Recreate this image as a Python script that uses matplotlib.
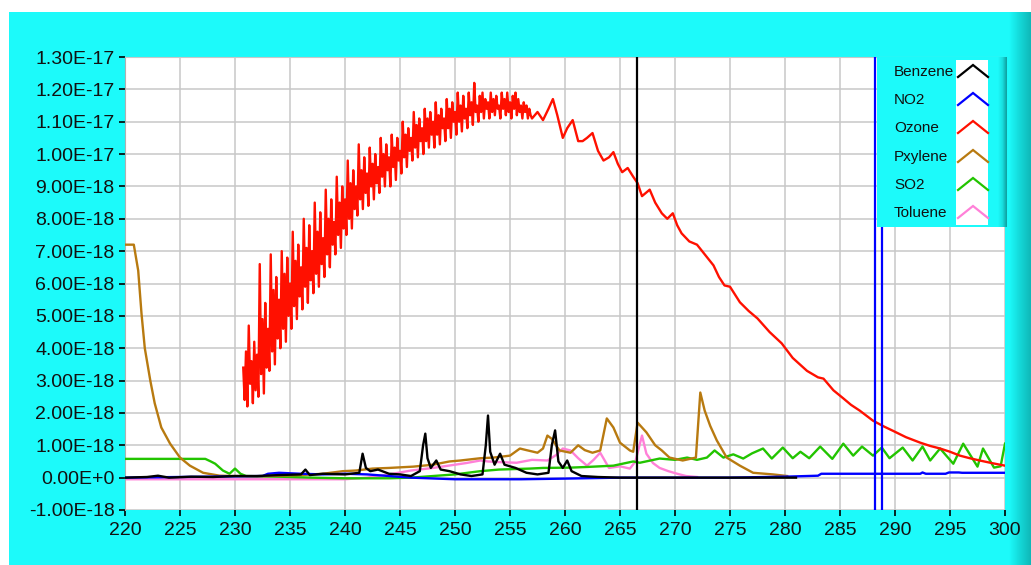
import matplotlib
matplotlib.use('Agg')
import matplotlib.pyplot as plt
import numpy as np
from matplotlib.patches import Rectangle
from matplotlib.colors import LinearSegmentedColormap

plt.rcParams['font.family'] = ['Liberation Sans', 'DejaVu Sans']

W, H, DPI = 1031, 565, 100
SCALE = 1e-18  # values below are in units of 1e-18

# ---------------- data ----------------
series_names = ['Benzene', 'NO2', 'Ozone', 'Pxylene', 'SO2', 'Toluene']
series_colors = ['#000000', '#0000FF', '#FF1000', '#B87A10', '#22C400', '#FF80D8']

x_ticks = [220, 225, 230, 235, 240, 245, 250, 255, 260, 265, 270, 275, 280, 285, 290, 295, 300]
y_tick_vals = [-1, 0, 1, 2, 3, 4, 5, 6, 7, 8, 9, 10, 11, 12, 13]
y_tick_labels = ['-1.00E-18', '0.00E+0', '1.00E-18', '2.00E-18', '3.00E-18', '4.00E-18',
                 '5.00E-18', '6.00E-18', '7.00E-18', '8.00E-18', '9.00E-18', '1.00E-17',
                 '1.10E-17', '1.20E-17', '1.30E-17']

# noisy part of the ozone trace, sampled every 0.125 nm starting at 230.75
ozone_noisy_x0 = 230.75
ozone_noisy_step = 0.125
ozone_noisy_y = [
    3.4, 2.4, 3.9,
    2.2, 4.7, 2.9, 3.6, 2.3, 4.2, 2.7, 3.8,
    2.5, 6.6, 3.2, 4.9, 2.6, 5.4, 3.4, 4.6,
    3.3, 6.9, 3.9, 5.8, 3.5, 6.2, 4.3, 5.5,
    4.0, 7.0, 4.6, 6.3, 4.2, 6.8, 5.0, 6.0,
    4.6, 7.6, 5.3, 6.7, 4.9, 7.2, 5.6, 6.5,
    5.2, 8.0, 5.9, 7.1, 5.4, 7.8, 6.1, 7.0,
    5.7, 8.5, 6.3, 7.6, 5.9, 8.2, 6.6, 7.4,
    6.2, 8.9, 6.9, 8.0, 6.5, 8.6, 7.2, 7.9,
    6.9, 9.3, 7.5, 8.5, 7.1, 9.0, 7.7, 8.6,
    7.5, 9.8, 8.0, 9.1, 7.7, 9.5, 8.3, 9.0,
    8.1, 10.3, 8.6, 9.5, 8.3, 9.9, 8.8, 9.4,
    8.4, 10.2, 9.0, 9.7, 8.6, 10.0, 9.1, 9.6,
    8.8, 10.5, 9.3, 10.0, 9.0, 10.3, 9.5, 9.9,
    9.0, 10.6, 9.6, 10.2, 9.2, 10.5, 9.8, 10.1,
    9.4, 11.0, 9.9, 10.6, 9.6, 10.8, 10.1, 10.5,
    9.8, 11.3, 10.2, 10.9, 9.9, 11.1, 10.4, 10.8,
    10.0, 11.4, 10.4, 11.1, 10.2, 11.3, 10.6, 11.0,
    10.2, 11.6, 10.6, 11.2, 10.3, 11.4, 10.8, 11.1,
    10.4, 11.7, 10.8, 11.4, 10.5, 11.6, 11.0, 11.3,
    10.6, 11.9, 11.0, 11.5, 10.7, 11.8, 11.1, 11.4,
    10.8, 11.9, 11.2, 11.6, 10.9, 12.2, 11.3, 11.5,
    11.0, 11.8, 11.3, 11.9, 11.1, 11.7, 11.4, 11.6,
    11.1, 11.9, 11.3, 11.7, 11.2, 11.8, 11.4, 11.5,
    11.1, 11.9, 11.4, 11.7, 11.2, 11.9, 11.3, 11.6,
    11.1, 11.8, 11.4, 11.9, 11.2, 11.7, 11.3, 11.5,
    11.1, 11.6, 11.3, 11.5, 11.1, 11.4, 11.2, 11.1,
]
ozone_smooth_x = [257.5, 258.0, 258.5, 258.9, 259.3, 259.8, 260.2, 260.7, 261.2, 261.6, 262.0, 262.5,
                  263.0, 263.5, 264.0, 264.4, 264.8, 265.2, 265.7, 266.2, 266.6, 267.0, 267.7, 268.2,
                  268.8, 269.3, 269.8, 270.2, 270.6, 271.3, 272.0, 272.7, 273.5, 274.0, 274.5, 275.0,
                  275.9, 276.7, 277.5, 278.6, 279.7, 280.7, 282.0, 283.0, 283.5, 284.4, 285.3, 286.0,
                  286.8, 288.0, 289.0, 289.8, 291.0, 292.3, 293.2, 294.1, 295.0, 295.9, 296.8, 297.7,
                  298.8, 300.0]
ozone_smooth_y = [11.3, 11.05, 11.4, 11.7, 11.2, 10.5, 10.8, 11.05, 10.4, 10.4, 10.5, 10.65,
                  10.1, 9.8, 9.9, 10.06, 9.7, 9.44, 9.57, 9.3, 9.1, 8.7, 8.9, 8.5,
                  8.17, 8.0, 8.17, 7.8, 7.55, 7.3, 7.2, 6.9, 6.56, 6.2, 5.94, 5.9,
                  5.42, 5.15, 4.92, 4.5, 4.15, 3.7, 3.3, 3.1, 3.06, 2.7, 2.45, 2.25,
                  2.07, 1.76, 1.58, 1.45, 1.25, 1.08, 0.98, 0.9, 0.8, 0.68, 0.6, 0.53,
                  0.45, 0.37]

pxylene_x = [220.0, 220.8, 221.2, 221.5, 221.8, 222.3, 222.7, 223.3, 224.1, 225.0, 225.9, 227.1,
             228.6, 230.0, 232.0, 234.0, 236.0, 238.0, 239.8, 241.0, 242.5, 244.0, 246.2, 248.0,
             249.5, 250.5, 252.3, 253.5, 255.0, 255.9, 256.5, 257.5, 258.0, 258.4, 258.8, 259.5,
             260.5, 261.2, 261.8, 262.5, 263.2, 263.8, 264.4, 265.0, 265.9, 266.2, 266.6, 267.4,
             268.2, 268.8, 269.5, 270.7, 271.9, 272.3, 272.7, 273.2, 273.8, 274.7, 275.9, 277.1,
             278.9, 280.2]
pxylene_y = [7.2, 7.2, 6.4, 5.07, 4.0, 3.0, 2.3, 1.55, 1.05, 0.62, 0.37, 0.15,
             0.06, 0.05, 0.04, 0.06, 0.08, 0.12, 0.2, 0.22, 0.28, 0.3, 0.34, 0.4,
             0.5, 0.53, 0.6, 0.62, 0.68, 0.9, 0.85, 0.77, 0.9, 1.3, 1.2, 0.84,
             0.77, 1.0, 0.85, 0.77, 0.84, 1.83, 1.55, 1.08, 0.84, 0.8, 1.7, 1.4,
             1.0, 0.84, 0.62, 0.53, 0.62, 2.63, 2.07, 1.6, 1.15, 0.62, 0.37, 0.15,
             0.1, 0.05]

so2_x = [220.0, 227.3, 227.8, 228.2, 228.9, 229.5, 230.0, 230.5, 231.0, 234.0, 237.0, 240.0,
         244.0, 246.0, 248.0, 250.0, 252.3, 254.0, 256.8, 258.0, 260.5, 262.0, 264.4, 266.2,
         266.8, 268.6, 270.0, 271.1, 272.0, 272.9, 273.6, 274.4, 275.3, 276.2, 277.0, 278.0,
         278.8, 279.8, 280.7, 281.4, 282.2, 283.2, 284.3, 285.3, 286.2, 287.0, 288.0, 288.8,
         289.5, 290.7, 291.6, 292.5, 293.2, 294.1, 295.3, 296.2, 297.5, 298.0, 299.0, 299.6,
         300.0]
so2_y = [0.58, 0.58, 0.5, 0.43, 0.22, 0.12, 0.28, 0.12, 0.05, 0.03, 0.0, -0.02,
         -0.02, 0.0, 0.05, 0.1, 0.2, 0.25, 0.28, 0.3, 0.31, 0.33, 0.37, 0.5,
         0.46, 0.59, 0.55, 0.62, 0.55, 0.62, 0.84, 0.62, 0.72, 0.59, 0.75, 0.9,
         0.59, 0.93, 0.6, 0.8, 0.6, 0.96, 0.58, 1.05, 0.68, 0.96, 0.68, 0.93,
         0.6, 0.93, 0.53, 0.96, 0.53, 0.9, 0.43, 1.05, 0.34, 0.9, 0.31, 0.35,
         1.05]

no2_x = [220.0, 232.5, 233.0, 234.0, 236.0, 238.0, 240.0, 242.0, 244.0, 246.0, 250.0, 256.0,
         260.0, 265.0, 270.0, 275.0, 280.0, 283.0, 283.3, 292.3, 292.5, 292.8, 294.6, 294.9,
         295.8, 296.1, 300.0]
no2_y = [0.0, 0.05, 0.12, 0.15, 0.12, 0.1, 0.12, 0.1, 0.05, 0.0, -0.05, -0.05,
         -0.03, 0.0, 0.0, 0.0, 0.03, 0.06, 0.12, 0.12, 0.16, 0.12, 0.12, 0.16,
         0.16, 0.15, 0.15]

benzene_x = [220.0, 222.0, 223.0, 224.0, 226.0, 228.0, 230.0, 232.0, 234.0, 236.0, 236.4, 236.8,
             238.0, 240.0, 241.3, 241.6, 241.9, 242.3, 243.0, 244.0, 245.0, 246.0, 246.8, 247.1,
             247.3, 247.5, 247.8, 248.3, 248.7, 249.5, 250.5, 251.5, 252.5, 252.8, 253.0, 253.2,
             253.6, 254.1, 254.5, 255.5, 256.5, 257.5, 258.5, 258.8, 259.1, 259.4, 259.8, 260.2,
             260.6, 261.5, 263.0, 265.0, 270.0, 275.0, 281.0]
benzene_y = [0.0, 0.02, 0.06, 0.0, 0.03, 0.02, 0.05, 0.05, 0.08, 0.1, 0.25, 0.08,
             0.12, 0.1, 0.15, 0.74, 0.3, 0.2, 0.25, 0.12, 0.1, 0.05, 0.2, 1.0,
             1.36, 0.6, 0.3, 0.53, 0.25, 0.2, 0.1, 0.05, 0.1, 1.0, 1.92, 0.8,
             0.4, 0.74, 0.4, 0.3, 0.15, 0.1, 0.15, 1.0, 1.46, 0.5, 0.3, 0.53,
             0.2, 0.05, 0.02, 0.0, 0.0, 0.0, 0.0]

toluene_x = [220.0, 240.0, 242.0, 244.0, 246.0, 248.0, 249.0, 250.0, 251.0, 252.3, 253.0, 254.0,
             255.6, 257.0, 258.4, 259.2, 259.8, 260.5, 261.2, 262.0, 262.6, 263.2, 264.0, 265.0,
             265.9, 266.4, 267.0, 267.4, 268.0, 268.6, 269.4, 270.2, 271.0, 272.0]
toluene_y = [-0.05, -0.05, 0.0, 0.1, 0.22, 0.3, 0.35, 0.4, 0.45, 0.53, 0.5, 0.48,
             0.46, 0.55, 0.53, 0.7, 0.9, 0.84, 0.6, 0.37, 0.55, 0.77, 0.3, 0.35,
             0.28, 0.5, 1.3, 0.74, 0.45, 0.3, 0.2, 0.12, 0.05, 0.02]

cursor_black_x = [266.55]
cursor_blue_x = [288.2, 288.8]

# ---------------- figure ----------------
CYAN = '#1CFAFA'
fig = plt.figure(figsize=(W / DPI, H / DPI), dpi=DPI)
fig.patch.set_facecolor(CYAN)


def fbox(x0, y0, x1, y1):
    return [x0 / W, 1 - y1 / H, (x1 - x0) / W, (y1 - y0) / H]


# white strips top / left
fig.add_artist(Rectangle((0, 1 - 12 / H), 1, 12 / H, transform=fig.transFigure,
                         facecolor='white', edgecolor='none', zorder=-5))
fig.add_artist(Rectangle((0, 0), 9 / W, 1, transform=fig.transFigure,
                         facecolor='white', edgecolor='none', zorder=-5))

# right-edge shading
grad = np.linspace(0, 1, 50).reshape(1, -1)
axg = fig.add_axes(fbox(1009, 12, 1031, 565), zorder=-2)
cm_edge = LinearSegmentedColormap.from_list('edge', [CYAN, '#14D8D8', '#0FB8B8'])
axg.imshow(grad, aspect='auto', cmap=cm_edge, extent=[0, 1, 0, 1])
axg.set_axis_off()

ax = fig.add_axes(fbox(125, 57, 1005, 510))
ax.set_facecolor('white')

ozone_x = [ozone_noisy_x0 + i * ozone_noisy_step for i in range(len(ozone_noisy_y))] + ozone_smooth_x
ozone_y = ozone_noisy_y + ozone_smooth_y

lw = 1.7
ax.plot(toluene_x, np.array(toluene_y) * SCALE, color=series_colors[5], lw=lw, zorder=2)
ax.plot(so2_x, np.array(so2_y) * SCALE, color=series_colors[4], lw=lw, zorder=3)
ax.plot(pxylene_x, np.array(pxylene_y) * SCALE, color=series_colors[3], lw=lw, zorder=4)
ax.plot(no2_x, np.array(no2_y) * SCALE, color=series_colors[1], lw=lw, zorder=5)
ax.plot(ozone_x, np.array(ozone_y) * SCALE, color=series_colors[2], lw=lw, zorder=6)
ax.plot(benzene_x, np.array(benzene_y) * SCALE, color=series_colors[0], lw=lw, zorder=7)

for cx in cursor_black_x:
    ax.axvline(cx, color='black', lw=1.6, zorder=8)
for cx in cursor_blue_x:
    ax.axvline(cx, color='#0000FF', lw=1.6, zorder=8)

ax.set_xlim(220, 300)
ax.set_ylim(-1 * SCALE, 13 * SCALE)
ax.set_xticks(x_ticks)
ax.set_xticklabels([str(v) for v in x_ticks])
ax.set_yticks([v * SCALE for v in y_tick_vals])
ax.set_yticklabels(y_tick_labels)
ax.grid(True, color='#C8C8C8', lw=1.1, zorder=0)
ax.set_axisbelow(True)
for s in ax.spines.values():
    s.set_visible(False)
ax.spines['left'].set_visible(True)
ax.spines['left'].set_color('#B0B0B0')
ax.spines['top'].set_visible(True)
ax.spines['top'].set_color('#C8C8C8')
ax.tick_params(axis='both', direction='out', length=4.5, width=1.2, color='black',
               labelsize=14, labelcolor='#111111')
ax.tick_params(axis='y', pad=3)
ax.tick_params(axis='x', pad=4)

# legend panel
lg = fig.add_axes(fbox(877, 57, 1007, 227), zorder=10)
lg.set_facecolor(CYAN)
lg.set_xticks([])
lg.set_yticks([])
for s in lg.spines.values():
    s.set_visible(False)
cm_leg = LinearSegmentedColormap.from_list('leg', [CYAN, '#18E0E0', '#0E9E9E'])
lg.imshow(grad, aspect='auto', cmap=cm_leg, extent=[121, 130, 170, 0], zorder=1)
lg.add_patch(Rectangle((79, 3), 32, 165, facecolor='white', edgecolor='none', zorder=2))
row_y = [15, 43, 71, 100, 128, 156]
for name, col, yc in zip(series_names, series_colors, row_y):
    lg.text(17, yc, name, fontsize=11, va='center', ha='left', color='#111111', zorder=3)
    lg.plot([81, 96, 111], [yc + 5, yc - 7, yc + 5], color=col, lw=1.6, zorder=3,
            solid_joinstyle='miter')
lg.set_xlim(0, 130)
lg.set_ylim(170, 0)

fig.savefig('out.png', dpi=DPI, facecolor=fig.get_facecolor())
